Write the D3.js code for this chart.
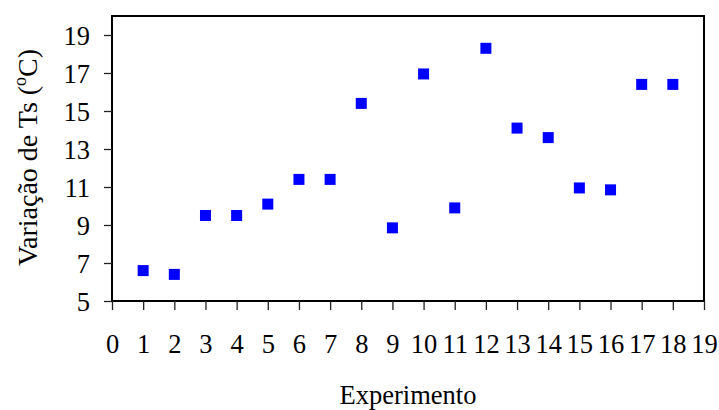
<!DOCTYPE html>
<html>
<head>
<meta charset="utf-8">
<script src="https://cdn.jsdelivr.net/npm/d3@7"></script>
<style>
  body { margin: 0; background: #fff; }
  text { font-family: "Liberation Serif", "Times New Roman", serif; }
</style>
</head>
<body>
<div id="chart-area"></div>
<script>
var experimentos = [1, 2, 3, 4, 5, 6, 7, 8, 9, 10, 11, 12, 13, 14, 15, 16, 17, 18];
var variacaoTs = [6.6, 6.4, 9.5, 9.5, 10.1, 11.4, 11.4, 15.4, 8.85, 16.95, 9.9, 18.3, 14.1, 13.6, 10.95, 10.85, 16.4, 16.4];
var xTicks = d3.range(0, 20);
var yTicks = [5, 7, 9, 11, 13, 15, 17, 19];

var data = experimentos.map(function(e, i) {
  return { exp: e, ts: variacaoTs[i] };
});

var svg = d3.select('#chart-area').append('svg')
  .attr('width', 719)
  .attr('height', 410);

var plotLeft = 112, plotRight = 704, plotTop = 16, plotBottom = 301;

var x = d3.scaleLinear()
  .domain([0, 19])
  .range([plotLeft, plotRight]);

var y = d3.scaleLinear()
  .domain([5, 20])
  .range([plotBottom, plotTop]);

// frame
svg.append('rect')
  .attr('x', plotLeft)
  .attr('y', plotTop)
  .attr('width', plotRight - plotLeft)
  .attr('height', plotBottom - plotTop)
  .attr('fill', 'none')
  .attr('stroke', '#000')
  .attr('stroke-width', 2);

var xAxis = svg.append('g')
  .attr('transform', 'translate(0,' + plotBottom + ')')
  .call(d3.axisBottom(x).tickValues(xTicks).tickSize(9).tickPadding(24).tickFormat(d3.format('d')));

var yAxis = svg.append('g')
  .attr('transform', 'translate(' + plotLeft + ',0)')
  .call(d3.axisLeft(y).tickValues(yTicks).tickSize(8).tickPadding(14).tickFormat(d3.format('d')));

[xAxis, yAxis].forEach(function(g) {
  g.attr('font-size', null).attr('font-family', null);
  g.select('.domain').remove();
  g.selectAll('line').attr('stroke', '#222').attr('stroke-width', 1.3);
  g.selectAll('text')
    .attr('font-size', 26.5)
    .attr('fill', '#000');
});
xAxis.selectAll('text').attr('dy', '0.71em');
yAxis.selectAll('text').attr('dy', '0.34em');

// points
svg.selectAll('rect.pt')
  .data(data)
  .enter()
  .append('rect')
    .attr('class', 'pt')
    .attr('x', function(d) { return x(d.exp) - 5.5; })
    .attr('y', function(d) { return y(d.ts) - 5.5; })
    .attr('width', 11)
    .attr('height', 11)
    .attr('fill', '#0000ff');

// axis titles
svg.append('text')
  .attr('x', (plotLeft + plotRight) / 2)
  .attr('y', 404)
  .attr('text-anchor', 'middle')
  .attr('font-size', 26.5)
  .text('Experimento');

var yt = svg.append('text')
  .attr('transform', 'translate(37,' + ((plotTop + plotBottom) / 2 - 1) + ') rotate(-90)')
  .attr('text-anchor', 'middle')
  .attr('font-size', 28);
yt.append('tspan').text('Variação de Ts (');
yt.append('tspan').attr('font-size', 18).attr('dy', -11).text('o');
yt.append('tspan').attr('dy', 11).text('C)');
</script>
</body>
</html>
